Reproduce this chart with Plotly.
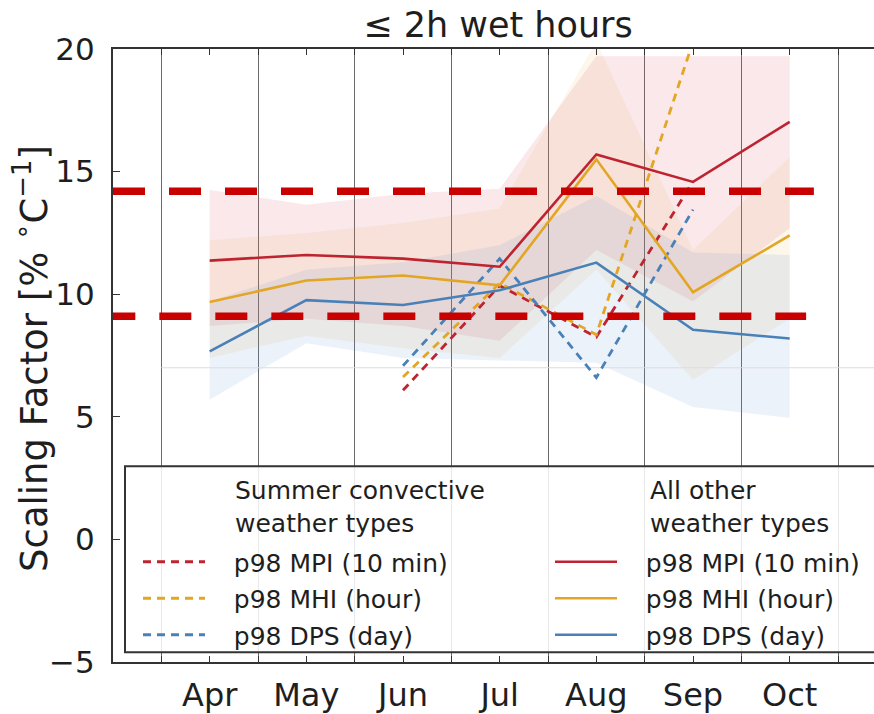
import plotly.graph_objects as go

# ---------------- data ----------------
months = ["Apr", "May", "Jun", "Jul", "Aug", "Sep", "Oct"]
conv_months = ["Jun", "Jul", "Aug", "Sep"]

# all other weather types (solid lines)
mpi_other = [11.37, 11.60, 11.45, 11.12, 15.70, 14.58, 17.03]
mhi_other = [9.68, 10.56, 10.76, 10.36, 15.50, 10.08, 12.40]
dps_other = [7.67, 9.76, 9.56, 10.16, 11.29, 8.55, 8.19]

# uncertainty bands (all other weather types)
mpi_lo = [8.70, 9.00, 8.70, 8.10, 11.80, 9.70, 12.70]
mpi_hi = [14.25, 13.65, 14.10, 14.30, 19.70, 19.70, 19.70]
mhi_lo = [7.40, 8.30, 7.80, 7.40, 11.00, 6.50, 9.00]
mhi_hi = [12.20, 12.50, 12.90, 13.50, 20.30, 11.80, 15.60]
dps_lo = [5.70, 8.00, 7.40, 7.30, 7.20, 5.40, 4.95]
dps_hi = [9.70, 11.00, 11.30, 12.00, 14.00, 11.70, 11.60]

# summer convective weather types (dashed lines)
mpi_conv = [6.08, 10.35, 8.25, 14.60]
mhi_conv = [6.62, 10.45, 8.35, 20.30]
dps_conv = [7.08, 11.45, 6.60, 13.45]

# reference lines
thresholds = [14.2, 9.1]
threshold_spans = [[-1.0, 6.25], [-1.1, 6.17]]
cc_rate = 7

series_labels = ["p98 MPI (10 min)", "p98 MHI (hour)", "p98 DPS (day)"]
group_titles = ["Summer convective<br>weather types", "All other<br>weather types"]

# ---------------- styling ----------------
RED = "#bd2430"
ORANGE = "#e2a624"
BLUE = "#4a80b8"
FONT = "DejaVu Sans"
TXT = "#1e1e1e"

xi = list(range(len(months)))
xc = [months.index(m) for m in conv_months]

fig = go.Figure()

# bands
for lo, hi, rgba in [
    (mpi_lo, mpi_hi, "rgba(214,80,90,0.13)"),
    (mhi_lo, mhi_hi, "rgba(230,170,60,0.10)"),
    (dps_lo, dps_hi, "rgba(100,150,210,0.12)"),
]:
    fig.add_trace(go.Scatter(
        x=xi + xi[::-1], y=hi + lo[::-1], fill="toself", fillcolor=rgba,
        line=dict(width=0), mode="lines", hoverinfo="skip", showlegend=False))

# faint reference line
fig.add_trace(go.Scatter(x=[-0.5, 6.9], y=[cc_rate, cc_rate], mode="lines",
                         line=dict(color="#dcdcdc", width=1.2),
                         hoverinfo="skip", showlegend=False))

colors = [RED, ORANGE, BLUE]
pad = "\u00a0\u00a0\u00a0"

# dashed convective
for i, (vals, c) in enumerate(zip([mpi_conv, mhi_conv, dps_conv], colors)):
    fig.add_trace(go.Scatter(
        x=xc, y=vals, mode="lines", name=pad + series_labels[i],
        line=dict(color=c, width=2.8, dash="8px,6px"),
        legend="legend", legendgroup="c%d" % i))

# solid others
for i, (vals, c) in enumerate(zip([mpi_other, mhi_other, dps_other], colors)):
    fig.add_trace(go.Scatter(
        x=xi, y=vals, mode="lines", name=pad + series_labels[i],
        line=dict(color=c, width=2.6),
        legend="legend2", legendgroup="o%d" % i))

# red threshold dashed lines
for t, span in zip(thresholds, threshold_spans):
    fig.add_trace(go.Scatter(
        x=span, y=[t, t], mode="lines",
        line=dict(color="#c80000", width=7.5, dash="32px,24px"),
        hoverinfo="skip", showlegend=False))

W, H = 874, 714
L, T, B = 113, 49, 42
pw, ph = W - L, H - T - B


def px_x(p):
    return (p - L) / pw


def px_y(p):
    return 1 - (p - T) / ph


legend_common = dict(
    bgcolor="rgba(0,0,0,0)", borderwidth=0,
    font=dict(family=FONT, size=25, color=TXT),
    itemwidth=62, tracegroupgap=1, traceorder="grouped",
    xanchor="left", yanchor="top",
)

fig.update_layout(
    width=W, height=H,
    margin=dict(l=L, r=0, t=T, b=B),
    plot_bgcolor="white", paper_bgcolor="white",
    font=dict(family=FONT, color=TXT),
    title=dict(text="≤ 2h wet hours", font=dict(family=FONT, size=35, color=TXT),
               x=px_x(498), xref="paper", xanchor="center",
               y=1 - 25 / H, yref="container", yanchor="middle"),
    xaxis=dict(range=[-1, -1 + pw / 96.67], tickmode="array", tickvals=xi,
               ticktext=months, ticks="inside", ticklen=6, tickcolor="#333",
               showline=True, linecolor="#333", linewidth=2, mirror="ticks",
               showgrid=False, zeroline=False,
               tickfont=dict(family=FONT, size=32, color=TXT),
               ticklabelstandoff=4,
               minor=dict(tickmode="linear", tick0=-0.5, dtick=1, showgrid=True,
                          gridcolor="#6a6a6a", gridwidth=1.2, ticks="inside",
                          ticklen=6, tickcolor="#333")),
    yaxis=dict(range=[-5, 20], tickmode="array", tickvals=[-5, 0, 5, 10, 15, 20],
               ticks="inside", ticklen=7, tickcolor="#333",
               showline=True, linecolor="#333", linewidth=2,
               showgrid=False, zeroline=False,
               tickfont=dict(family=FONT, size=31, color=TXT),
               ticklabelstandoff=10),
    legend=dict(x=px_x(138), y=px_y(547), **legend_common),
    legend2=dict(x=px_x(550), y=px_y(547), **legend_common),
    shapes=[dict(type="rect", xref="paper", yref="paper",
                 x0=px_x(125), x1=1.02, y0=px_y(662), y1=px_y(473),
                 line=dict(color="#333", width=2),
                 fillcolor="rgba(255,255,255,0.85)", layer="above")],
    annotations=[
        dict(text=group_titles[0], xref="paper", yref="paper",
             x=px_x(233), y=px_y(514), xanchor="left", yanchor="middle",
             align="left", showarrow=False,
             font=dict(family=FONT, size=25, color=TXT)),
        dict(text=group_titles[1], xref="paper", yref="paper",
             x=px_x(648), y=px_y(514), xanchor="left", yanchor="middle",
             align="left", showarrow=False,
             font=dict(family=FONT, size=25, color=TXT)),
        dict(text="Scaling Factor [% <sup>∘</sup>C<sup>−1</sup>]",
             xref="paper", yref="paper", x=px_x(32), y=px_y(364),
             xanchor="center", yanchor="middle", textangle=-90,
             showarrow=False, font=dict(family=FONT, size=37, color=TXT)),
    ],
)

fig.write_html("out.html")
